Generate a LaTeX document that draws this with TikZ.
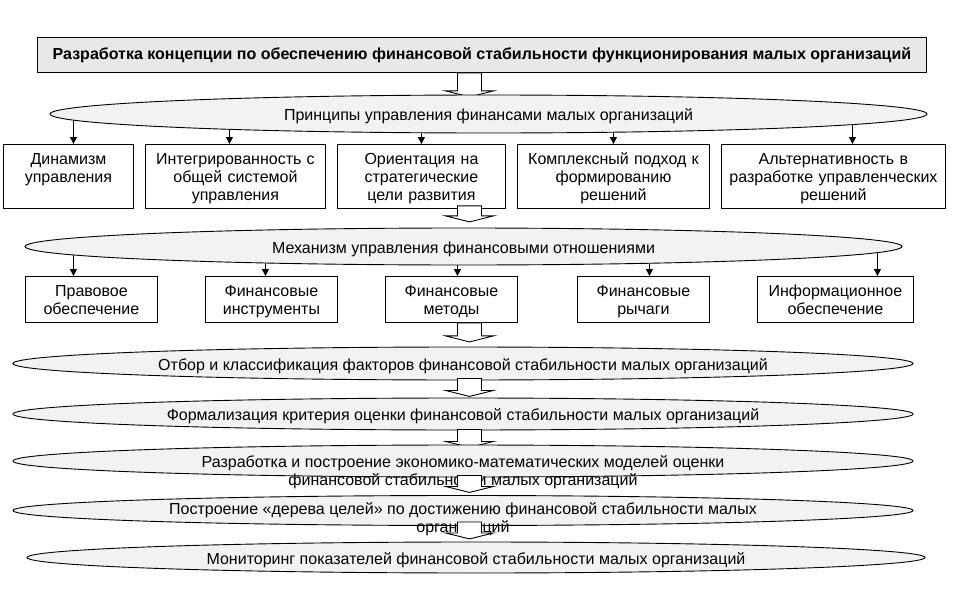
\documentclass[tikz,border=0pt]{standalone}
\usepackage{fontspec}
\setmainfont{Liberation Sans}
\usetikzlibrary{arrows.meta,calc,shapes.geometric}
\pgfdeclarelayer{back}
\pgfsetlayers{back,main}
\definecolor{ovalfill}{RGB}{242,242,242}
\definecolor{titlefill}{RGB}{232,232,232}
\newcommand\ostrut{\rule[-3.4pt]{0pt}{20pt}}
\newcommand\blockarrow[2]{%
  \draw[blk] let \p1=#1 in (\x1-12pt,\y1) -- (\x1-12pt,\y1-#2) -- (\x1-24pt,\y1-#2) -- (\x1,\y1-#2-6pt)
    -- (\x1+24pt,\y1-#2) -- (\x1+12pt,\y1-#2) -- (\x1+12pt,\y1) -- cycle;}
\begin{document}
\begin{tikzpicture}[x=1pt,y=-1pt,
  font=\fontsize{16}{18}\selectfont,
  tbox/.style={draw, fill=titlefill, line width=0.9pt, inner sep=0pt, anchor=north west},
  rbox/.style={draw, fill=white, line width=0.9pt, inner sep=0pt, align=center, anchor=north west,
    execute at begin node=\rule{0pt}{17.5pt}, execute at end node=\strut},
  oval/.style={ellipse, draw, fill=ovalfill, line width=0.9pt, inner sep=0pt},
  otext/.style={align=center, inner sep=0pt, execute at begin node=\rule{0pt}{17.5pt}, execute at end node=\strut},
  blk/.style={draw, fill=white, line width=0.9pt, line join=miter},
  tip/.style={line width=0.9pt, -{Triangle[length=7pt,width=7pt]}}]
\useasboundingbox (0,0) rectangle (962,589);
\coordinate (ax) at (469.5,0);

% title
\node[tbox, minimum width=889, minimum height=35] (t) at (37,37)
  {\bfseries Разработка концепции по обеспечению финансовой стабильности функционирования малых организаций};
\blockarrow{(t.south -| ax)}{18pt}

% principles
\node[oval, minimum width=877, minimum height=38] (e1) at (488.5,114)
  {\ostrut Принципы управления финансами малых организаций};

\node[rbox, minimum width=130, minimum height=64, text width=126] (b1) at (3,144)
  {Динамизм\\управления\\\mbox{}};
\node[rbox, minimum width=180, minimum height=64, text width=176] (b2) at (145,144)
  {Интегрированность с\\общей системой\\управления};
\node[rbox, minimum width=168, minimum height=64, text width=164] (b3) at (337,144)
  {Ориентация на\\стратегические\\цели развития};
\node[rbox, minimum width=192, minimum height=64, text width=188] (b4) at (517,144)
  {Комплексный подход к\\формированию\\решений};
\node[rbox, minimum width=224, minimum height=64, text width=220] (b5) at (721,144)
  {Альтернативность в\\разработке управленческих\\решений};
\begin{pgfonlayer}{back}
\draw[tip] ([xshift=5pt]b1.north |- e1.center) -- ([xshift=5pt]b1.north);
\draw[tip] ([xshift=-6pt]b2.north |- e1.center) -- ([xshift=-6pt]b2.north);
\draw[tip] (b3.north |- e1.center) -- (b3.north);
\draw[tip] (b4.north |- e1.center) -- (b4.north);
\draw[tip] ([xshift=19pt]b5.north |- e1.center) -- ([xshift=19pt]b5.north);
\end{pgfonlayer}
\blockarrow{([yshift=3pt]b3.south -| ax)}{10pt}

% mechanism
\node[oval, minimum width=877, minimum height=37] (e2) at (463.5,246.5)
  {\ostrut Механизм управления финансовыми отношениями};
\node[rbox, minimum width=132, minimum height=46, text width=128] (c1) at (25,276)
  {Правовое\\обеспечение};
\node[rbox, minimum width=132, minimum height=46, text width=128] (c2) at (205,276)
  {Финансовые\\инструменты};
\node[rbox, minimum width=132, minimum height=46, text width=128] (c3) at (385,276)
  {Финансовые\\методы};
\node[rbox, minimum width=132, minimum height=46, text width=128] (c4) at (577,276)
  {Финансовые\\рычаги};
\node[rbox, minimum width=156, minimum height=46, text width=152] (c5) at (757,276)
  {Информационное\\обеспечение};
\begin{pgfonlayer}{back}
\draw[tip] ([xshift=-18pt]c1.north |- e2.center) -- ([xshift=-18pt]c1.north);
\draw[tip] ([xshift=-6pt]c2.north |- e2.center) -- ([xshift=-6pt]c2.north);
\draw[tip] ([xshift=6pt]c3.north |- e2.center) -- ([xshift=6pt]c3.north);
\draw[tip] ([xshift=6pt]c4.north |- e2.center) -- ([xshift=6pt]c4.north);
\draw[tip] ([xshift=42pt]c5.north |- e2.center) -- ([xshift=42pt]c5.north);
\end{pgfonlayer}
\blockarrow{(c3.south -| ax)}{13pt}

% stages
\node[oval, minimum width=900, minimum height=33] (e3) at (463,363.5)
  {\ostrut Отбор и классификация факторов финансовой стабильности малых организаций};
\blockarrow{([yshift=2pt]e3.south -| ax)}{12pt}
\node[oval, minimum width=900, minimum height=32] (e4) at (463,414)
  {\ostrut Формализация критерия оценки финансовой стабильности малых организаций};
\blockarrow{([yshift=1pt]e4.south -| ax)}{12pt}
\node[oval, minimum width=900, minimum height=32] (e5) at (463,461) {};
\node[otext] (e5t) at (463,473)
  {Разработка и построение экономико-математических моделей оценки\\финансовой стабильности малых организаций};
\blockarrow{([yshift=2pt]e5.south -| ax)}{11pt}
\node[oval, minimum width=900, minimum height=30] (e6) at (463,510.5) {};
\node[otext] (e6t) at (463,520)
  {Построение «дерева целей» по достижению финансовой стабильности малых\\организаций};
\blockarrow{([yshift=4pt]e6.south -| ax)}{11pt}
\node[oval, minimum width=898, minimum height=31] (e7) at (476,557.5)
  {\ostrut Мониторинг показателей финансовой стабильности малых организаций};
\end{tikzpicture}
\end{document}
